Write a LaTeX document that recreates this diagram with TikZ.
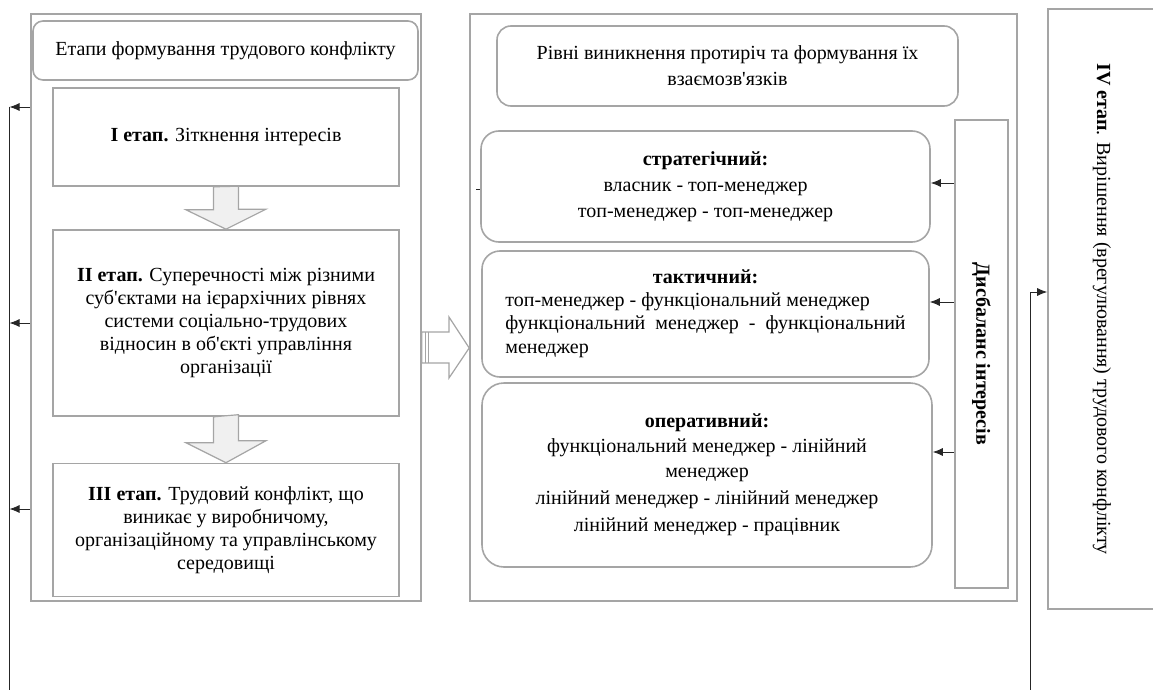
\documentclass[tikz,border=0pt]{standalone}
\usepackage{fontspec}
\setmainfont{Liberation Serif}
\usetikzlibrary{arrows.meta,calc}
\definecolor{bgray}{RGB}{165,165,165}
\definecolor{afill}{RGB}{240,240,240}
\newcommand{\apos}{\textquotesingle}
\begin{document}
\begin{tikzpicture}[x=1pt,y=-1pt,
  txt/.style={font=\fontsize{20}{23}\selectfont, text=black},
  box/.style={draw=bgray, line width=1.6pt, inner sep=0pt, align=center, txt},
  rbox/.style={box, rounded corners=16pt},
  frame/.style={draw=bgray, line width=1.6pt, inner sep=0pt},
  conn/.style={draw=black!85, line width=0.8pt, -{Latex[length=10pt,width=8pt]}},
  plain/.style={draw=black!85, line width=0.8pt},
  fat/.style={draw=bgray, line width=1.2pt, fill=afill, line join=miter},
  hollow/.style={draw=bgray, line width=1.2pt, fill=white, line join=miter},
]
\useasboundingbox (0,0) rectangle (1153,690);

% left block
\node[frame, minimum width=390pt, minimum height=587pt] (L) at (226,307.5) {};
\node[rbox, rounded corners=10pt, minimum width=385pt, minimum height=59pt] (T1) at (225.5,50.5)
  {Етапи формування трудового конфлікту};
\node[box, minimum width=346pt, minimum height=98pt] (S1) at (226,137)
  {\textbf{I етап.} Зіткнення інтересів};
\node[box, minimum width=346pt, minimum height=186pt] (S2) at (226,323)
  {\textbf{II етап.} Суперечності між різними\\ суб\apos єктами на ієрархічних рівнях\\ системи соціально-трудових\\ відносин в об\apos єкті управління\\ організації};
\node[box, minimum width=346pt, minimum height=133pt] (S3) at (226,530)
  {\textbf{III етап.} Трудовий конфлікт, що\\ виникає у виробничому,\\ організаційному та управлінському\\ середовищі};

\path[fat] ($(S1.south)+(-12.5,0)$) -- ++(0,23) -- ++(-27.5,0) -- (S2.north) -- ++(40,-20) -- ++(-27.5,0) -- ++(0,-23) -- cycle;
\path[fat] ($(S2.south)+(-12.5,0)$) -- ++(0,26) -- ++(-27.5,0) -- (S3.north) -- ++(40,-22) -- ++(-27.5,0) -- ++(0,-26) -- cycle;

% middle block
\node[frame, minimum width=547pt, minimum height=587pt] (M) at (743.5,307.5) {};
\node[rbox, rounded corners=14pt, minimum width=461pt, minimum height=80pt] (T2) at (727.5,66)
  {Рівні виникнення протиріч та формування їх\\[3pt] взаємозв\apos язків};
\node[rbox, rounded corners=18pt, minimum width=449pt, minimum height=111pt] (ST) at (705.5,186.5)
  {\textbf{стратегічний:}\\[3pt] власник - топ-менеджер\\[3pt] топ-менеджер - топ-менеджер};
\node[rbox, rounded corners=18pt, minimum width=447pt, minimum height=126pt] (TA) at (705.5,314)
  {\begin{tabular}{@{}l@{}}\multicolumn{1}{@{}c@{}}{\textbf{тактичний:}}\\ топ-менеджер - функціональний менеджер\\ функціональний\ \ менеджер\ \ -\ \ функціональний\\[1pt] менеджер\end{tabular}};
\node[rbox, rounded corners=22pt, minimum width=450pt, minimum height=184pt] (OP) at (707,475)
  {\textbf{оперативний:}\\[2pt] функціональний менеджер - лінійний\\[2pt] менеджер\\[4pt] лінійний менеджер - лінійний менеджер\\[4pt] лінійний менеджер - працівник};
\node[box, rotate=-90, minimum width=468pt, minimum height=53pt] (D) at (981.5,354)
  {\textbf{Дисбаланс інтересів}};

\draw[conn] (D.south |- 0,183) -- (ST.east |- 0,183);
\draw[conn] (D.south |- 0,302) -- (TA.east |- 0,302);
\draw[conn] (D.south |- 0,452) -- (OP.east |- 0,452);
\draw[plain] (476,189) -- (480,189);

% hollow arrow between blocks
\path[hollow] (L.east |- 0,332) -- (449,332) -- (449,317) -- (M.west |- 0,348) -- (449,378) -- (449,363) -- (L.east |- 0,363) -- cycle;
\draw[bgray, line width=0.8pt] (425,332) -- (425,363) (428.5,332) -- (428.5,363);

% IV stage
\node[box, rotate=-90, minimum width=600pt, minimum height=108pt] (IV) at (1102,309)
  {\textbf{IV етап}. Вирішення (врегулювання) трудового конфлікту};

% feedback lines
\coordinate (lt) at (9.5,107);
\coordinate (lb) at (9.5,690);
\draw[plain] (lt) -- (lb);
\draw[conn] (L.west |- lt) -- (lt);
\draw[conn] (L.west |- 0,323) -- (lb |- 0,323);
\draw[conn] (L.west |- 0,509) -- (lb |- 0,509);

\coordinate (rb) at (1030,690);
\draw[conn] (rb) |- (IV.south |- 0,292);
\end{tikzpicture}
\end{document}
